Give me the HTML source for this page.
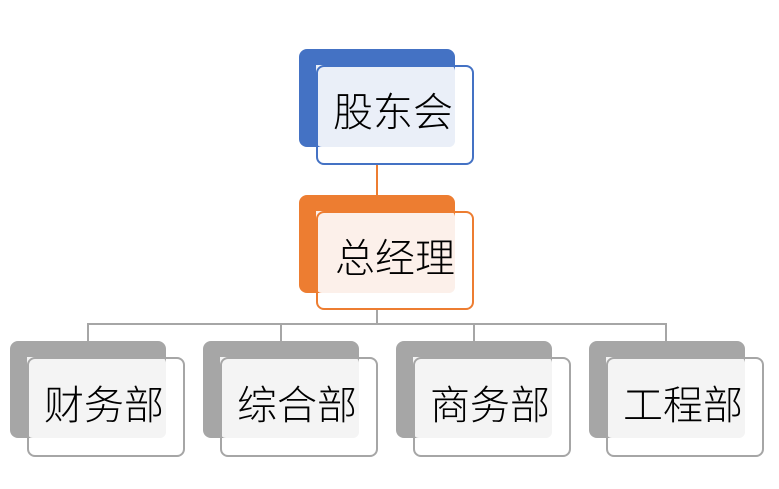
<!DOCTYPE html>
<html><head><meta charset="utf-8"><style>
body{margin:0;width:779px;height:489px;background:#fff;position:relative;overflow:hidden;font-family:"Liberation Sans","Noto Sans CJK SC",sans-serif}
.bk{position:absolute;border-radius:8px}
.fr{position:absolute;border-radius:8px;border:2px solid;box-sizing:border-box}
.in{position:absolute;border-radius:0 6px 6px 6px;overflow:hidden}
.t{position:absolute;font-size:40px;line-height:40px;color:#000;white-space:nowrap;font-weight:300}
.l{position:absolute;background:#a6a6a6}
</style></head><body>
<div class="l" style="left:376px;top:165px;width:2px;height:30px;background:#ed7d31"></div>
<div class="l" style="left:376px;top:310px;width:2px;height:15px"></div>
<div class="l" style="left:87px;top:323px;width:580px;height:2px"></div>
<div class="l" style="left:87px;top:323px;width:2px;height:18px"></div>
<div class="l" style="left:280px;top:323px;width:2px;height:18px"></div>
<div class="l" style="left:473px;top:323px;width:2px;height:18px"></div>
<div class="l" style="left:665px;top:323px;width:2px;height:18px"></div>

<div class="bk" style="left:299px;top:49px;width:156px;height:98px;background:#4472c4"></div>
<div class="in" style="left:316px;top:65px;width:139px;height:82px;background:#eaeff8"></div>
<div class="fr" style="left:316px;top:65px;width:158px;height:100px;border-color:#4472c4"></div>
<div class="t" style="left:333px;top:93px">股东会</div>

<div class="bk" style="left:299px;top:195px;width:156px;height:98px;background:#ed7d31"></div>
<div class="in" style="left:316px;top:211px;width:139px;height:82px;background:#fcf0ea"></div>
<div class="fr" style="left:316px;top:211px;width:158px;height:99px;border-color:#ed7d31"></div>
<div class="t" style="left:335px;top:239px">总经理</div>

<div class="bk" style="left:10px;top:341px;width:156px;height:97px;background:#a6a6a6"></div>
<div class="in" style="left:27px;top:357px;width:139px;height:81px;background:#f4f4f4"></div>
<div class="fr" style="left:27px;top:357px;width:158px;height:100px;border-color:#a6a6a6"></div>
<div class="t" style="left:44px;top:386px">财务部</div>

<div class="bk" style="left:203px;top:341px;width:156px;height:97px;background:#a6a6a6"></div>
<div class="in" style="left:220px;top:357px;width:139px;height:81px;background:#f4f4f4"></div>
<div class="fr" style="left:220px;top:357px;width:158px;height:100px;border-color:#a6a6a6"></div>
<div class="t" style="left:237px;top:386px">综合部</div>

<div class="bk" style="left:396px;top:341px;width:156px;height:97px;background:#a6a6a6"></div>
<div class="in" style="left:413px;top:357px;width:139px;height:81px;background:#f4f4f4"></div>
<div class="fr" style="left:413px;top:357px;width:158px;height:100px;border-color:#a6a6a6"></div>
<div class="t" style="left:430px;top:386px">商务部</div>

<div class="bk" style="left:589px;top:341px;width:156px;height:97px;background:#a6a6a6"></div>
<div class="in" style="left:606px;top:357px;width:139px;height:81px;background:#f4f4f4"></div>
<div class="fr" style="left:606px;top:357px;width:158px;height:100px;border-color:#a6a6a6"></div>
<div class="t" style="left:623px;top:386px">工程部</div>
</body></html>
